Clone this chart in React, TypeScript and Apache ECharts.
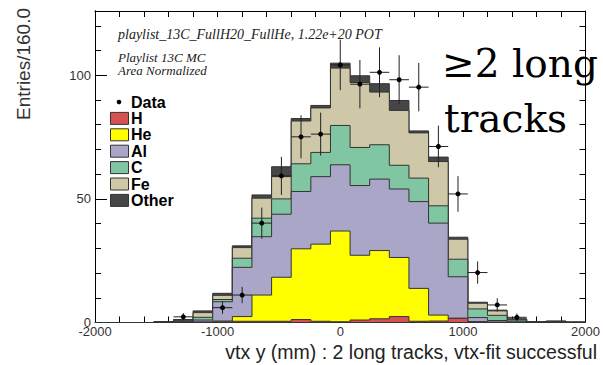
import React, { useEffect, useRef } from "react";
import * as echarts from "echarts";

// Histogram definition: 25 bins of 160 mm from -2000 to 2000
const X_MIN = -2000;
const X_MAX = 2000;
const BIN_WIDTH = 160;
const Y_MIN = 0;
const Y_MAX = 126;

const xTickValues = [-2000, -1000, 0, 1000, 2000];
const yTickValues = [0, 50, 100];

// MC components (area normalized), per bin, stacked in this order from the bottom
const mcH = [0, 0, 0, 0, 0, 0.1, 0.3, 0.5, 0.5, 0.5, 1.2, 0.5, 0.3, 1.0, 1.5, 2.4, 0.5, 0.6, 1.7, 0.3, 0.1, 0, 0, 0, 0];
const mcHe = [0, 0, 0, 0, 0.05, 0.1, 0.3, 1.9, 10.6, 17.8, 28.6, 31.2, 36.7, 26.2, 27.6, 23.9, 13.3, 2.4, 0, 0, 0, 0, 0, 0, 0];
const mcAl = [0, 0, 0, 0.1, 0.25, 0.8, 7.8, 19.9, 23.6, 25.5, 23.2, 27.3, 26.8, 28.2, 28.9, 27.7, 35.1, 37.2, 16.8, 1.7, 0.7, 0.3, 0.1, 0.2, 0.1];
const mcC = [0, 0, 0, 0.1, 0.2, 1.1, 0.9, 3.7, 7.5, 6.2, 11.2, 9.8, 15.9, 15.4, 13.9, 9.6, 9.5, 7.0, 7.1, 3.5, 2.1, 0.7, 0.1, 0.1, 0];
const mcFe = [0, 0, 0, 0.1, 0.4, 1.9, 1.7, 4.3, 8.1, 9.0, 17.3, 18.0, 23.2, 26.3, 21.3, 22.2, 18.3, 17.9, 8.1, 2.3, 1.8, 0.3, 0.05, 0.2, 0.05];
const mcOther = [0, 0, 0, 0.05, 0.3, 0.7, 0.8, 0.7, 1.3, 4.0, 1.0, 1.0, 2.0, 2.7, 3.4, 4.0, 0.8, 1.8, 0.8, 0.4, 0.3, 0.2, 0.05, 0.1, 0.05];

// Data points and their vertical errors
const dataValues = [null, null, null, null, 2.3, null, 6.0, 11.1, 40.2, 59.3, 75.1, 76.2, 104.2, 96.4, 101.2, 98.2, 95.2, 71.2, 52.0, 20.2, 7.1, 2.1, null, null, null];
const dataErrors = [0, 0, 0, 0, 1.5, 0, 2.5, 3.3, 6.3, 7.7, 8.7, 8.7, 10.2, 9.8, 10.1, 9.9, 9.8, 8.4, 7.2, 4.5, 2.7, 1.5, 0, 0, 0];

const componentNames = ["H", "He", "Al", "C", "Fe", "Other"];
const componentValues = [mcH, mcHe, mcAl, mcC, mcFe, mcOther];
const componentColors = ["#d65252", "#ffff00", "#aaa6c8", "#80c6a2", "#cfc8a8", "#464646"];

const OUTLINE = "#333333";

export default function App() {
  const ref = useRef<HTMLDivElement>(null);

  useEffect(() => {
    if (!ref.current) return;
    const chart = echarts.init(ref.current, undefined, { renderer: "svg" });

    const nBins = mcH.length;
    const edges: number[] = [];
    for (let i = 0; i <= nBins; i++) edges.push(X_MIN + i * BIN_WIDTH);

    // cumulative stacks
    const cumulative: number[][] = [];
    componentValues.forEach((vals, li) => {
      cumulative.push(vals.map((v, i) => (li === 0 ? v : cumulative[li - 1][i] + v)));
    });

    // draw order: biggest (Other) first, H last
    const layerItems = componentNames.map((_, i) => [componentNames.length - 1 - i, 0]);

    const pointItems: number[][] = [];
    dataValues.forEach((v, i) => {
      if (v !== null) pointItems.push([X_MIN + (i + 0.5) * BIN_WIDTH, v as number, dataErrors[i]]);
    });

    const fontSans = "'Liberation Sans', Arial, Helvetica, sans-serif";
    const fontSerif = "'Liberation Serif', 'Times New Roman', serif";

    const legendY0 = 102;
    const legendStep = 16.4;
    const legendGraphics: any[] = [];
    legendGraphics.push({
      type: "circle",
      shape: { cx: 119, cy: legendY0, r: 2.3 },
      style: { fill: "#000" },
    });
    legendGraphics.push({
      type: "text",
      x: 131,
      y: legendY0,
      style: { text: "Data", font: `bold 16px ${fontSans}`, fill: "#000", verticalAlign: "middle" },
    });
    componentNames.forEach((name, i) => {
      const cy = legendY0 + legendStep * (i + 1);
      legendGraphics.push({
        type: "rect",
        shape: { x: 110.5, y: cy - 6, width: 18, height: 12 },
        style: { fill: componentColors[i], stroke: OUTLINE, lineWidth: 1 },
      });
      legendGraphics.push({
        type: "text",
        x: 131,
        y: cy,
        style: { text: name, font: `bold 16px ${fontSans}`, fill: "#000", verticalAlign: "middle" },
      });
    });

    const axisLineStyle = { show: true, onZero: false, lineStyle: { color: "#000", width: 1 } };

    chart.setOption({
      animation: false,
      grid: { left: 95, right: 12, top: 11, height: 311.5, containLabel: false },
      xAxis: [
        {
          type: "value",
          min: X_MIN,
          max: X_MAX,
          interval: 1000,
          position: "bottom",
          axisLine: axisLineStyle,
          axisTick: { show: true, inside: true, length: 12, lineStyle: { color: "#000" } },
          minorTick: { show: true, splitNumber: 5, length: 6, lineStyle: { color: "#000" } },
          splitLine: { show: false },
          minorSplitLine: { show: false },
          axisLabel: {
            show: true,
            margin: 2,
            fontSize: 13,
            fontFamily: fontSans,
            color: "#333",
            formatter: (v: number) => (xTickValues.includes(v) ? String(v) : ""),
          },
        },
        {
          type: "value",
          min: X_MIN,
          max: X_MAX,
          interval: 200,
          position: "top",
          axisLine: axisLineStyle,
          axisTick: { show: true, inside: true, length: 6, lineStyle: { color: "#000" } },
          splitLine: { show: false },
          axisLabel: { show: false },
        },
      ],
      yAxis: [
        {
          type: "value",
          min: Y_MIN,
          max: Y_MAX,
          interval: 50,
          position: "left",
          axisLine: axisLineStyle,
          axisTick: { show: true, inside: true, length: 12, lineStyle: { color: "#000" } },
          splitLine: { show: false },
          axisLabel: {
            show: true,
            margin: 4,
            fontSize: 13,
            fontFamily: fontSans,
            color: "#333",
            showMaxLabel: false,
            formatter: (v: number) => (yTickValues.includes(v) ? String(v) : ""),
          },
        },
        {
          type: "value",
          min: Y_MIN,
          max: Y_MAX,
          interval: 10,
          position: "left",
          axisLine: axisLineStyle,
          axisTick: { show: true, inside: true, length: 6, lineStyle: { color: "#000" } },
          splitLine: { show: false },
          axisLabel: { show: false },
        },
        {
          type: "value",
          min: Y_MIN,
          max: Y_MAX,
          interval: 10,
          position: "right",
          axisLine: axisLineStyle,
          axisTick: { show: true, inside: true, length: 6, lineStyle: { color: "#000" } },
          splitLine: { show: false },
          axisLabel: { show: false },
        },
      ],
      series: [
        {
          type: "custom",
          name: "MC stack",
          xAxisIndex: 0,
          yAxisIndex: 0,
          clip: false,
          silent: true,
          data: layerItems,
          renderItem: (params: any, api: any) => {
            const layer = api.value(0) as number;
            const tops = cumulative[layer];
            const pts: number[][] = [];
            pts.push(api.coord([edges[0], 0]));
            for (let i = 0; i < nBins; i++) {
              pts.push(api.coord([edges[i], tops[i]]));
              pts.push(api.coord([edges[i + 1], tops[i]]));
            }
            pts.push(api.coord([edges[nBins], 0]));
            return {
              type: "polygon",
              shape: { points: pts },
              style: { fill: componentColors[layer], stroke: OUTLINE, lineWidth: 1 },
            };
          },
        },
        {
          type: "custom",
          name: "Data",
          xAxisIndex: 0,
          yAxisIndex: 0,
          clip: false,
          silent: true,
          data: pointItems,
          renderItem: (params: any, api: any) => {
            const x = api.value(0);
            const y = api.value(1);
            const e = api.value(2);
            const c = api.coord([x, y]);
            const top = api.coord([x, y + e]);
            const bot = api.coord([x, Math.max(0, y - e)]);
            const left = api.coord([x - BIN_WIDTH / 2, y]);
            const right = api.coord([x + BIN_WIDTH / 2, y]);
            return {
              type: "group",
              children: [
                {
                  type: "line",
                  shape: { x1: top[0], y1: top[1], x2: bot[0], y2: bot[1] },
                  style: { stroke: "#222", lineWidth: 1 },
                },
                {
                  type: "line",
                  shape: { x1: left[0], y1: left[1], x2: right[0], y2: right[1] },
                  style: { stroke: "#222", lineWidth: 1 },
                },
                {
                  type: "circle",
                  shape: { cx: c[0], cy: c[1], r: 2.5 },
                  style: { fill: "#000" },
                },
              ],
            };
          },
        },
      ],
      graphic: [
        {
          type: "text",
          x: 118,
          y: 34,
          style: {
            text: "playlist_13C_FullH20_FullHe, 1.22e+20 POT",
            font: `italic 14px ${fontSerif}`,
            fill: "#222",
            verticalAlign: "middle",
          },
        },
        {
          type: "text",
          x: 118,
          y: 57,
          style: { text: "Playlist 13C MC", font: `italic 13px ${fontSerif}`, fill: "#222", verticalAlign: "middle" },
        },
        {
          type: "text",
          x: 118,
          y: 70.5,
          style: { text: "Area Normalized", font: `italic 13px ${fontSerif}`, fill: "#222", verticalAlign: "middle" },
        },
        {
          type: "text",
          x: 442,
          y: 63,
          style: { text: "≥2 long", font: `39px 'DejaVu Serif', serif`, fill: "#000", verticalAlign: "middle" },
        },
        {
          type: "text",
          x: 444,
          y: 118,
          style: { text: "tracks", font: `39px 'DejaVu Serif', serif`, fill: "#000", verticalAlign: "middle" },
        },
        {
          type: "text",
          x: 597,
          y: 352,
          style: {
            text: "vtx y (mm) : 2 long tracks, vtx-fit successful",
            font: `19.5px ${fontSans}`,
            fill: "#222",
            align: "right",
            verticalAlign: "middle",
          },
        },
        {
          type: "text",
          x: 23,
          y: 8,
          rotation: Math.PI / 2,
          style: {
            text: "Entries/160.0",
            font: `19px ${fontSans}`,
            fill: "#333",
            align: "right",
            verticalAlign: "middle",
          },
        },
        ...legendGraphics,
      ],
    });

    return () => chart.dispose();
  }, []);

  return <div ref={ref} style={{ position: "fixed", left: 0, top: 0, width: 603, height: 365, background: "#fff" }} />;
}
